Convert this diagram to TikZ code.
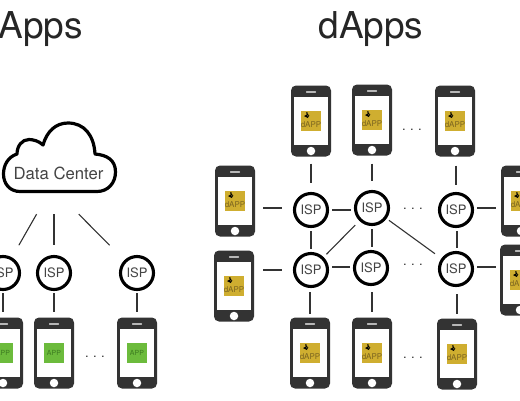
\documentclass[tikz,border=0pt]{standalone}
\usepackage{fontspec}
\setmainfont{TeX Gyre Heros}
\definecolor{phonec}{HTML}{333333}
\definecolor{textc}{HTML}{444444}
\definecolor{gold}{HTML}{CFAE30}
\definecolor{goldt}{HTML}{7A6420}
\definecolor{appg}{HTML}{6CBB3C}
\definecolor{appt}{HTML}{3C7A20}
\tikzset{
  phonebody/.style={fill=phonec,rounded corners=5pt,minimum width=40pt,minimum height=71pt,inner sep=0pt,outer sep=0pt},
  phonescreen/.style={fill=white,minimum width=33.5pt,minimum height=48pt,inner sep=0pt,outer sep=0pt},
  phonehome/.style={circle,fill=white,minimum size=8.5pt,inner sep=0pt},
  phonespeaker/.style={fill=white,minimum width=10pt,minimum height=1.2pt,inner sep=0pt,rounded corners=.5pt},
  gbadge/.style={fill=gold,minimum size=19.5pt,inner sep=0pt},
  abadge/.style={fill=appg,minimum size=20pt,inner sep=0pt,text=appt,font=\fontsize{7}{7}\selectfont},
  dlabel/.style={text=goldt,inner sep=0pt,font=\fontsize{8}{8}\selectfont},
  isp/.style={circle,draw=black,line width=3.1pt,fill=white,minimum size=33pt,inner sep=0pt,text=textc,font=\fontsize{13}{13}\selectfont},
  link/.style={draw=phonec,line width=1.1pt},
  title/.style={text=black!85,inner sep=0pt,anchor=base,font=\fontsize{37}{37}\selectfont},
  dots/.style={text=phonec,inner sep=0pt,font=\fontsize{13}{13}\selectfont},
}
\newcommand{\phonebase}[3]{%
  \node[phonebody] (#1) at (#2,#3) {};
  \node[phonescreen] (#1-s) at (#1.center) {};
  \node[phonehome] (#1-h) at ([yshift=-30pt]#1.center) {};
  \node[phonespeaker] (#1-t) at ([yshift=29pt]#1.center) {};
}
\newcommand{\dphone}[3]{%
  \phonebase{#1}{#2}{#3}
  \node[gbadge] (#1-b) at (#1.center) {};
  \node[dlabel] (#1-l) at ([yshift=-4pt]#1.center) {dAPP};
  \fill[black] ([xshift=-3.5pt,yshift=5.3pt]#1.center) circle (1.9pt);
  \fill[black] ([xshift=-7pt,yshift=5pt]#1.center) -- ([xshift=-3pt,yshift=7pt]#1.center) -- ([xshift=-3pt,yshift=3pt]#1.center) -- cycle;
  \fill[gold] ([xshift=-3.3pt,yshift=5.3pt]#1.center) circle (.7pt);
  \fill[black] ([xshift=-5pt,yshift=8.6pt]#1.center) -- ([xshift=-3.5pt,yshift=8.6pt]#1.center) -- ([xshift=-3.5pt,yshift=5pt]#1.center) -- cycle;
}
\newcommand{\aphone}[3]{%
  \phonebase{#1}{#2}{#3}
  \node[abadge] (#1-b) at (#1.center) {APP};
}
\begin{document}
\begin{tikzpicture}[x=1pt,y=-1pt]
\useasboundingbox (0,0) rectangle (520,400);
\clip (0,0) rectangle (520,400);
\node[title] (tA) at (40.5,38) {Apps};
\node[title] (tD) at (371,38) {dApps};
% cloud
\draw[black,line width=3.2pt,fill=white,line join=round]
  (20,191.5) -- (97,191.5)
  .. controls (108,191.5) and (115.5,183) .. (115.5,172)
  .. controls (115.5,160) and (107,155) .. (95,154)
  .. controls (94,135) and (84,123) .. (68,123)
  .. controls (56,123) and (47,131) .. (43,145)
  .. controls (39,141) and (33,139.5) .. (29,139.5)
  .. controls (22,139.5) and (17,146) .. (17,154)
  .. controls (8,157) and (3.5,165) .. (3.5,174)
  .. controls (3.5,184) and (10,191.5) .. (20,191.5) -- cycle;
\node[minimum width=114pt,minimum height=71pt,inner sep=0pt] (cloud) at (59,158.5) {};
\node[text=textc,inner sep=0pt,font=\fontsize{16.7}{16.7}\selectfont] (cloudt) at (58.5,173) {Data Center};
% left ISPs
\node[isp] (L1) at (3,273) {ISP};
\node[isp] (L2) at (54,273) {ISP};
\node[isp] (L3) at (137,273) {ISP};
\aphone{LP1}{3}{353}
\aphone{LP2}{54}{353}
\aphone{LP3}{137}{353}
\node[dots] (Ld) at (95,356.5) {.\,\,.\,\,.};
\draw[link,shorten <=23pt,shorten >=32pt] ([xshift=-11pt]cloud.south) -- (L1.center);
\draw[link,shorten <=20pt,shorten >=28pt] ([xshift=-5pt]cloud.south) -- (L2.center);
\draw[link,shorten <=28pt,shorten >=39pt] (cloud.south) -- (L3.center);
\foreach \a/\b in {L1/LP1,L2/LP2,L3/LP3}{
  \draw[link,shorten <=2pt,shorten >=6pt] (\a.south) -- (\b.north);
}
% dApps ISPs
\node[isp] (A) at (311,210) {ISP};
\node[isp] (B) at (372,208) {ISP};
\node[isp] (C) at (456,210) {ISP};
\node[isp] (D) at (311,270) {ISP};
\node[isp] (E) at (371,268) {ISP};
\node[isp] (F) at (456,269) {ISP};
% dApps phones
\dphone{P1}{311}{121}
\dphone{P2}{372}{120}
\dphone{P3}{455}{121}
\dphone{P4}{235}{201}
\dphone{P5}{234}{286}
\dphone{P6}{521}{201}
\dphone{P7}{520}{280}
\dphone{P8}{310}{353}
\dphone{P9}{372}{353}
\dphone{P10}{457}{354}
\node[dots] (d1) at (412,129.5) {.\,\,.\,\,.};
\node[dots] (d2) at (413,208.5) {.\,\,.\,\,.};
\node[dots] (d3) at (413,264.5) {.\,\,.\,\,.};
\node[dots] (d4) at (413,357.5) {.\,\,.\,\,.};
% connectors
\draw[link,shorten <=7pt,shorten >=9pt] (P1.south) -- (A.north);
\draw[link,shorten <=8pt,shorten >=9pt] (P2.south) -- (B.north);
\draw[link,shorten <=9pt,shorten >=7pt] ([xshift=1pt]P3.south) -- (C.north);
\draw[link,shorten <=8pt,shorten >=11pt] ([yshift=-7pt]P4.east) -- ([yshift=2pt]A.west);
\draw[link,shorten <=9pt,shorten >=11pt] ([yshift=16pt]P5.east) -- (D.west);
\draw[link,shorten <=3pt,shorten >=5pt] ([yshift=2pt]C.east) -- ([yshift=-7pt]P6.west);
\draw[link,shorten <=3pt,shorten >=4pt] ([yshift=2pt]F.east) -- ([yshift=13pt]P7.west);
\draw[link,shorten <=4pt,shorten >=4pt] ([xshift=-1pt]D.south) -- (P8.north);
\draw[link,shorten <=6pt,shorten >=6pt] ([xshift=1pt]E.south) -- (P9.north);
\draw[link,shorten <=7pt,shorten >=5pt] ([xshift=1pt]F.south) -- (P10.north);
\draw[link,shorten <=3pt,shorten >=3pt] (A.south) -- (D.north);
\draw[link,shorten <=3pt,shorten >=3pt] (B.south) -- ([xshift=1pt]E.north);
\draw[link,shorten <=3pt,shorten >=3pt] ([xshift=1pt]C.south) -- ([xshift=1pt]F.north);
\draw[link,shorten <=3pt,shorten >=3pt] (A.east) -- ([yshift=-2pt]B.west);
\draw[link,shorten <=3pt,shorten >=3pt] ([yshift=3pt]D.east) -- ([yshift=1pt]E.west);
\draw[link,shorten <=22pt,shorten >=24pt] (D.center) -- (B.center);
\draw[link,shorten <=21pt,shorten >=26pt] (B.center) -- (F.center);
\end{tikzpicture}
\end{document}
